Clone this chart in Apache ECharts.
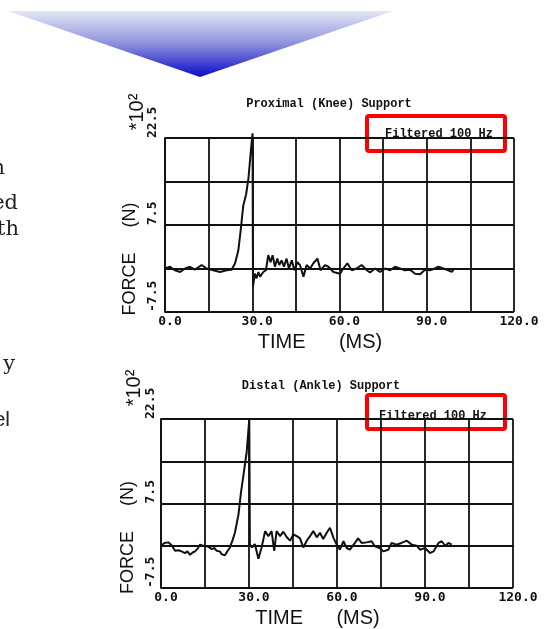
<!DOCTYPE html>
<html>
<head>
<meta charset="utf-8">
<script src="https://cdn.jsdelivr.net/npm/echarts@6/dist/echarts.min.js"></script>
<style>
html,body{margin:0;padding:0;background:#fff;}
#main{width:546px;height:629px;}
</style>
</head>
<body>
<div id="main"></div>
<script>
// ---- data (time in ms, force in units of 10^2 N) ----
const chartTitles = ['Proximal (Knee) Support', 'Distal (Ankle) Support'];
const filterNote = 'Filtered 100 Hz';
const xTickLabels = ['0.0', '30.0', '60.0', '90.0', '120.0'];
const yTickLabels = ['-7.5', '7.5', '22.5'];

const time1 = [0,1.7,3.4,5.2,6.9,8.6,10.3,12.6,14.3,16.6,18.9,21.2,22.9,24.1,25.2,26.0,26.9,27.9,28.7,29.5,30.1,30.25,30.9,31.5,32.1,32.7,33.8,34.7,35.5,36.3,37.0,37.8,38.6,39.3,40.1,40.9,41.8,42.6,43.6,44.5,45.5,46.4,47.6,48.7,49.9,51.0,52.4,53.5,55.0,56.2,57.9,58.5,60.2,61.3,62.7,64.2,65.9,67.6,69.4,70.5,72.2,73.9,75.7,77.4,79.1,80.8,82.5,84.2,86.0,87.7,89.4,91.1,92.8,94.0,95.7,97.4,98.6,99.2];
const force1 = [0,0.3,-0.3,-0.6,0,0.3,-0.2,0.6,0,-0.3,-0.6,-0.3,-0.2,0.9,3.1,6.5,10.8,12.8,15.6,20.2,23.3,-3.1,-0.9,-1.7,-0.6,-1.4,-0.6,-0.3,2.3,1.1,2.3,0.3,1.7,0.6,1.4,0.3,1.7,0,1.4,-0.3,1.1,0.6,-1.4,0.6,0,0.9,1.7,-0.3,0.6,0.3,-0.6,-0.3,-0.9,0,0.9,-0.3,0,0.6,-0.3,-0.7,0,-0.6,0,-0.3,0.3,0,-0.3,-0.2,-0.9,-1.0,-0.2,-0.3,0,0.3,0,-0.3,-0.6,-0.2];

const time2 = [0,1.2,2.5,3.6,4.8,6.0,7.0,8.2,9.0,9.9,10.8,11.6,12.5,13.3,14.2,15.0,16.2,17.3,18.2,19.0,20.0,20.7,21.8,22.6,23.5,24.4,25.2,26.4,27.3,28.1,29.2,30.1,30.3,31.0,32.0,33.2,34.3,35.5,36.6,37.7,38.6,39.4,40.6,41.7,42.9,44.0,45.1,46.3,47.4,48.5,49.7,50.8,51.9,53.1,54.2,55.3,56.5,57.6,58.8,59.9,61.0,62.2,63.3,64.4,66.1,67.2,68.4,70.1,71.8,72.9,74.6,75.8,77.5,78.6,80.3,82.0,83.8,85.5,87.2,88.3,90.0,91.7,92.9,94.6,95.7,96.9,98.0,99.1];
const force2 = [0,0.5,0.6,0.1,-0.9,-0.8,-1.0,-1.3,-1.0,-1.6,-1.2,-1.0,-0.5,0.2,0,0,-0.2,-0.6,-0.4,-0.9,-1.0,-1.5,-1.7,-1.0,-0.3,1.0,2.3,5.5,9.6,12.5,16.6,22.5,0.2,-0.3,0.3,-2.3,-0.3,2.6,1.7,2.6,-0.9,2.6,1.7,2.5,1.5,0.9,2.0,1.7,1.3,-0.3,0.9,1.7,2.6,1.5,2.3,1.2,2.3,3.2,1.4,0.2,-0.7,0.8,-0.4,-0.7,0.5,1.3,0.5,0.6,0.8,-0.1,-0.4,-1.0,-0.7,0.5,0.2,0.5,0.9,0.2,0,-0.7,-0.4,-1.3,-1.0,0.5,0.8,0,0.5,0.2];

// ---- build ----
const pairs = (t, f) => t.map((x, i) => [x, f[i]]);
const ink = '#111';
const numFont = {fontFamily: 'DejaVu Sans Mono', fontSize: 13, fontWeight: 'bold', color: ink};

function xAxis(gi) {
  return {
    type: 'value', gridIndex: gi, min: 0, max: 120, interval: 15,
    axisLine: {show: true, lineStyle: {color: ink, width: 1.8}},
    axisTick: {show: false},
    splitLine: {show: true, lineStyle: {color: ink, width: 1.8}},
    axisLabel: Object.assign({
      margin: 3, showMinLabel: true, showMaxLabel: true, padding: [0, 0, 0, 10],
      formatter: v => { const s = v.toFixed(1); return xTickLabels.includes(s) ? s : ''; }
    }, numFont),
    name: 'TIME      (MS)', nameLocation: 'middle', nameGap: 30,
    nameTextStyle: {fontFamily: 'Liberation Sans', fontSize: 20, color: ink, verticalAlign: 'middle', padding: [0, 39, 0, 0]}
  };
}
function yAxis(gi, margin, gap) {
  return {
    type: 'value', gridIndex: gi, min: -7.5, max: 22.5, interval: 7.5,
    axisLine: {show: true, lineStyle: {color: ink, width: 1.8}},
    axisTick: {show: false},
    splitLine: {show: true, lineStyle: {color: ink, width: 1.8}},
    axisLabel: Object.assign({
      rotate: 90, align: 'left', verticalAlign: 'middle', margin: margin,
      showMinLabel: true, showMaxLabel: true,
      formatter: v => { const s = v.toFixed(1); return yTickLabels.includes(s) ? s : ''; }
    }, numFont),
    name: 'FORCE     (N)', nameLocation: 'middle', nameGap: gap, nameRotate: 90,
    nameTextStyle: {fontFamily: 'Liberation Sans', fontSize: 18, color: ink, align: 'center', verticalAlign: 'middle', padding: [0, 68, 0, 0]}
  };
}

const chart = echarts.init(document.getElementById('main'), null, {renderer: 'canvas'});
const monoTitle = {fontFamily: 'Liberation Mono', fontSize: 12, fontWeight: 'bold', color: ink};

chart.setOption({
  backgroundColor: '#fff',
  animation: false,
  title: [
    {text: chartTitles[0], left: 329, top: 98, textAlign: 'center', padding: 0, textStyle: monoTitle},
    {text: chartTitles[1], left: 321, top: 380, textAlign: 'center', padding: 0, textStyle: monoTitle}
  ],
  grid: [
    {left: 165, top: 138, width: 349, height: 174},
    {left: 161, top: 419, width: 352, height: 173}
  ],
  xAxis: [xAxis(0), xAxis(1)],
  yAxis: [yAxis(0, 12, 29.5), yAxis(1, 10, 27.5)],
  series: [
    {type: 'line', xAxisIndex: 0, yAxisIndex: 0, data: pairs(time1, force1), showSymbol: false, clip: false,
     lineStyle: {color: ink, width: 2}},
    {type: 'line', xAxisIndex: 1, yAxisIndex: 1, data: pairs(time2, force2), showSymbol: false, clip: false,
     lineStyle: {color: ink, width: 2}}
  ],
  graphic: [
    {type: 'polygon', shape: {points: [[8, 11], [393, 11], [200, 77]]},
     style: {fill: new echarts.graphic.LinearGradient(0, 0, 0, 1, [
       {offset: 0, color: '#e4e8f5'}, {offset: 0.5, color: '#8c90dc'}, {offset: 1, color: '#0a0ac8'}])}},
    {type: 'text', x: 137, y: 112, rotation: Math.PI / 2,
     style: {text: '*10²', fontFamily: 'Liberation Sans', fontSize: 20, fill: ink, align: 'center', verticalAlign: 'middle'}},
    {type: 'text', x: 134, y: 388, rotation: Math.PI / 2,
     style: {text: '*10²', fontFamily: 'Liberation Sans', fontSize: 20, fill: ink, align: 'center', verticalAlign: 'middle'}},
    {type: 'text', x: 439, y: 134, style: {text: filterNote, align: 'center', verticalAlign: 'middle', fill: ink,
      font: 'bold 12px "Liberation Mono"'}},
    {type: 'text', x: 433, y: 416, style: {text: filterNote, align: 'center', verticalAlign: 'middle', fill: ink,
      font: 'bold 12px "Liberation Mono"'}},
    {type: 'rect', shape: {x: 367, y: 116, width: 138, height: 35, r: 2},
     style: {fill: 'none', stroke: '#ff0000', lineWidth: 4}},
    {type: 'rect', shape: {x: 367, y: 395, width: 138, height: 34, r: 2},
     style: {fill: 'none', stroke: '#ff0000', lineWidth: 4}},
    // clipped slide text on the left edge
    {type: 'text', x: 5, y: 158, style: {text: 'n', font: '21px "DejaVu Serif"', fill: '#222', align: 'right', verticalAlign: 'alphabetic'}},
    {type: 'text', x: 18, y: 193, style: {text: 'ed', font: '21px "DejaVu Serif"', fill: '#222', align: 'right', verticalAlign: 'alphabetic'}},
    {type: 'text', x: 19, y: 219, style: {text: 'th', font: '21px "DejaVu Serif"', fill: '#222', align: 'right', verticalAlign: 'alphabetic'}},
    {type: 'text', x: 15, y: 354, style: {text: 'y', font: '21px "DejaVu Serif"', fill: '#222', align: 'right', verticalAlign: 'alphabetic'}},
    {type: 'text', x: 10, y: 410, style: {text: 'el', font: '21px "Liberation Sans"', fill: '#222', align: 'right', verticalAlign: 'alphabetic'}}
  ]
});
</script>
</body>
</html>
